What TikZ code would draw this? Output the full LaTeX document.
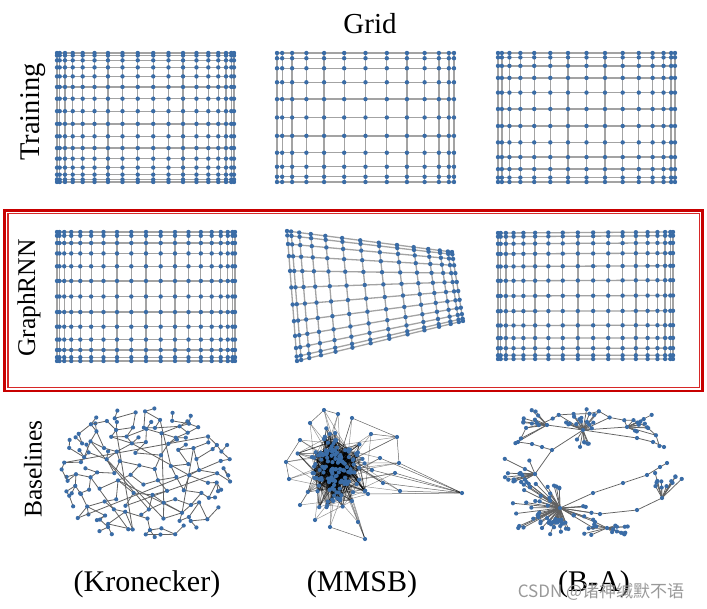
\documentclass[tikz,border=0pt]{standalone}
\usepackage{fontspec}
\setmainfont{Liberation Serif}
\newfontfamily\cjkfont{Noto Sans CJK SC}
\usetikzlibrary{calc}
\definecolor{nodeblue}{RGB}{58,108,166}
\definecolor{boxred}{RGB}{200,0,0}
\definecolor{innerred}{RGB}{215,40,40}
\tikzset{
  gedge/.style={draw=black!36, line width=1.3pt},
  gnode/.style={fill=nodeblue},
  kedge/.style={draw=black!62, line width=0.8pt},
  medge/.style={draw=black, line width=0.5pt, opacity=0.42},
  bedge/.style={draw=black!62, line width=0.75pt},
  rowlabel/.style={font=\fontsize{27}{30}\selectfont, inner sep=0pt, rotate=90},
  collabel/.style={font=\fontsize{30}{32}\selectfont, inner sep=0pt, anchor=base},
}
% grid network: corners TL TR BL BR, columns, rows (cosine spacing as spectral layout)
\newcommand\gridnet[6]{%
  \pgfmathtruncatemacro\gnc{#5-1}%
  \pgfmathtruncatemacro\gnr{#6-1}%
  \foreach \gi in {0,...,\gnc}{%
    \pgfmathsetmacro\gu{(1-cos(180*(\gi+0.5)/#5)/cos(90/#5))/2}%
    \draw[gedge] ($(#1)!\gu!(#2)$) -- ($(#3)!\gu!(#4)$);%
  }%
  \foreach \gj in {0,...,\gnr}{%
    \pgfmathsetmacro\gv{(1-cos(180*(\gj+0.5)/#6)/cos(90/#6))/2}%
    \draw[gedge] ($(#1)!\gv!(#3)$) -- ($(#2)!\gv!(#4)$);%
  }%
  \foreach \gi in {0,...,\gnc}{%
    \pgfmathsetmacro\gu{(1-cos(180*(\gi+0.5)/#5)/cos(90/#5))/2}%
    \foreach \gj in {0,...,\gnr}{%
      \pgfmathsetmacro\gv{(1-cos(180*(\gj+0.5)/#6)/cos(90/#6))/2}%
      \fill[gnode] ($ ($(#1)!\gu!(#2)$)!\gv!($(#3)!\gu!(#4)$) $) circle (2.2);%
    }%
  }%
}
% star of leaves: hub, count, amin, amax, rmin, rmax
\newcommand\bastar[6]{%
  \foreach \Bi in {1,...,#2}{%
    \pgfmathsetmacro\Bsa{#3+(#4-#3)*rnd}%
    \pgfmathsetmacro\Bsr{#5+(#6-#5)*rnd}%
    \draw[bedge] (#1) -- ++({\Bsr*cos(\Bsa)},{\Bsr*sin(\Bsa)}) coordinate (#1-s\Bi);%
  }%
  \foreach \Bi in {1,...,#2}{\fill[gnode] (#1-s\Bi) circle (2.1);}%
}
\begin{document}
\begin{tikzpicture}[x=1pt,y=-1pt]
\useasboundingbox (0,0) rectangle (707,608);
\fill[white] (0,0) rectangle (707,608);

% ---------- labels ----------
\node[collabel, font=\fontsize{29}{30}\selectfont] (title) at (370,33) {Grid};
\node[rowlabel, font=\fontsize{28.5}{30}\selectfont] (ltrain) at (33,112) {Training};
\node[rowlabel, font=\fontsize{25.5}{30}\selectfont] (lgraph) at (29,298) {GraphRNN};
\node[rowlabel, font=\fontsize{25.5}{30}\selectfont] (lbase) at (33,469) {Baselines};
\node[collabel] (lkron) at (147,591) {(Kronecker)};
\node[collabel] (lmmsb) at (362,591) {(MMSB)};
\node[collabel] (lba) at (594,591) {(B-A)};

% ---------- red box ----------
\draw[boxred, line width=2.7pt] (4.7,210.3) rectangle (702.5,391);
\draw[innerred, line width=1.2pt] (7.9,213.6) rectangle (699.4,387.6);

% ---------- training grids ----------
\coordinate (A1) at (57,53);  \coordinate (A2) at (234,53);
\coordinate (A3) at (57,182); \coordinate (A4) at (234,182);
\gridnet{A1}{A2}{A3}{A4}{18}{16}
\coordinate (B1) at (277,53);  \coordinate (B2) at (454,53);
\coordinate (B3) at (277,182); \coordinate (B4) at (454,182);
\gridnet{B1}{B2}{B3}{B4}{13}{11}
\coordinate (C1) at (498,53);  \coordinate (C2) at (675,53);
\coordinate (C3) at (498,182); \coordinate (C4) at (675,182);
\gridnet{C1}{C2}{C3}{C4}{15}{12}

% ---------- GraphRNN grids ----------
\coordinate (D1) at (57,232);  \coordinate (D2) at (235,232);
\coordinate (D3) at (57,361);  \coordinate (D4) at (235,361);
\gridnet{D1}{D2}{D3}{D4}{19}{13}
\coordinate (E1) at (287,231); \coordinate (E2) at (452,252);
\coordinate (E3) at (297,361); \coordinate (E4) at (463,321);
\gridnet{E1}{E2}{E3}{E4}{14}{12}
\coordinate (F1) at (498,233); \coordinate (F2) at (673,232);
\coordinate (F3) at (498,359); \coordinate (F4) at (673,359);
\gridnet{F1}{F2}{F3}{F4}{18}{13}

% ---------- Kronecker ----------
\pgfmathsetseed{4242}
\foreach \Kk/\Kn/\Kr in {1/5/0.16,2/10/0.34,3/16/0.52,4/22/0.68,5/28/0.82,6/38/0.95}{%
  \pgfmathtruncatemacro\Knl{\Kn-1}%
  \foreach \Km in {0,...,\Knl}{%
    \pgfmathsetmacro\Ka{23*\Kk+(\Km+0.3*rand)*360/\Kn}%
    \pgfmathsetmacro\Kq{\Kr*(1+0.09*rand)}%
    \pgfmathsetmacro\La{\Ka+70*rand}%
    \coordinate (K-\Kk-\Km) at ({145+88*\Kq*cos(\Ka)},{475+63*\Kq*sin(\Ka)});%
    \coordinate (KL-\Kk-\Km) at ({145+88*\Kq*cos(\Ka)+10*cos(\La)},{475+63*\Kq*sin(\Ka)+8*sin(\La)});%
  }%
}
\foreach \Kk/\Kn/\Kni in {1/5/0,2/10/5,3/16/10,4/22/16,5/28/22,6/38/28}{%
  \pgfmathtruncatemacro\Knl{\Kn-1}%
  \pgfmathtruncatemacro\Kkm{\Kk-1}%
  \foreach \Km in {0,...,\Knl}{%
    \pgfmathtruncatemacro\Kmn{mod(\Km+1,\Kn)}%
    \pgfmathtruncatemacro\fa{rnd<0.5}%
    \ifnum\Kk=1 \def\fa{1}\fi
    \ifnum\fa=1 \draw[kedge] (K-\Kk-\Km) -- (K-\Kk-\Kmn);\fi
    \ifnum\Kk>1
      \pgfmathtruncatemacro\Kiq{mod(round((23+\Km*360/\Kn)*\Kni/360)+10*\Kni,\Kni)}%
      \pgfmathtruncatemacro\fb{rnd<0.42}%
      \ifnum\fa=0 \def\fb{1}\fi
      \ifnum\fb=1 \draw[kedge] (K-\Kk-\Km) -- (K-\Kkm-\Kiq);\fi
    \fi
    \ifnum\Kk>2
      \pgfmathtruncatemacro\fl{rnd<0.3}%
      \ifnum\fl=1 \draw[kedge] (K-\Kk-\Km) -- (KL-\Kk-\Km); \fill[gnode] (KL-\Kk-\Km) circle (2.1);\fi
    \fi
  }%
}
\foreach \Kc in {1,...,12}{%
  \pgfmathtruncatemacro\ca{random(3,6)}%
  \pgfmathtruncatemacro\cb{random(2,6)}%
  \pgfmathtruncatemacro\na{{0,5,10,16,22,28,38}[\ca]}%
  \pgfmathtruncatemacro\nb{{0,5,10,16,22,28,38}[\cb]}%
  \pgfmathtruncatemacro\ma{random(0,\na-1)}%
  \pgfmathsetmacro\ang{23*\ca+\ma*360/\na+60+90*rnd}%
  \pgfmathtruncatemacro\mb{mod(round((\ang-23*\cb)*\nb/360)+10*\nb,\nb)}%
  \draw[kedge] (K-\ca-\ma) -- (K-\cb-\mb);
}
\foreach \Kk/\Kn in {1/5,2/10,3/16,4/22,5/28,6/38}{%
  \pgfmathtruncatemacro\Knl{\Kn-1}%
  \foreach \Km in {0,...,\Knl}{\fill[gnode] (K-\Kk-\Km) circle (2.1);}%
}

% ---------- MMSB ----------
\pgfmathsetseed{99}
\foreach \Mi in {1,...,150}{%
  \pgfmathsetmacro\mx{336+13.5*(rand+rand+rand)}%
  \pgfmathsetmacro\my{468+16.5*(rand+rand+rand)}%
  \coordinate (M-\Mi) at (\mx,\my);
}
\coordinate (MR1) at (397,437); \coordinate (MR2) at (399,463);
\coordinate (MR3) at (395,473); \coordinate (MR4) at (400,491);
\coordinate (MF) at (462,493);  \coordinate (MB) at (365,539);
\coordinate (MT) at (324,410);  \coordinate (ML1) at (286,462);
\coordinate (ML2) at (289,479); \coordinate (MTR) at (371,434);
\coordinate (MC1) at (380,458); \coordinate (MC2) at (383,483);
\coordinate (MC3) at (372,470); \coordinate (MC4) at (368,494);
\coordinate (MS1) at (310,423); \coordinate (MS2) at (300,440);
\coordinate (MS3) at (358,522); \coordinate (MS4) at (330,527);
\coordinate (MS5) at (300,505); \coordinate (MS6) at (352,418);
\coordinate (MS7) at (338,414); \coordinate (MS8) at (315,520);
\foreach \Me in {1,...,750}{%
  \pgfmathtruncatemacro\ea{random(1,150)}%
  \pgfmathtruncatemacro\eb{random(1,150)}%
  \draw[medge] (M-\ea) -- (M-\eb);
}
\foreach \Mo in {MR1,MR2,MR3,MR4,MB,MT,ML1,ML2,MTR,MC1,MC2,MC3,MC4,MS1,MS2,MS3,MS4,MS5,MS6,MS7,MS8}{%
  \foreach \Mj in {1,2,3}{%
    \pgfmathtruncatemacro\mtgt{random(1,150)}%
    \draw[medge] (\Mo) -- (M-\mtgt);
  }%
}
\foreach \Mo in {MR2,MR3,MR4,MC1,MC2,MC3,MC4}{\draw[medge, opacity=0.6] (MF) -- (\Mo);}
\draw[medge, opacity=0.6] (MR1) -- (MR2) (MR1) -- (MTR) (MR1) -- (MS6) (ML1) -- (ML2)
  (ML1) -- (MS2) (MB) -- (MS3) (MB) -- (MS4) (MT) -- (MS1) (MT) -- (MS7);
\foreach \Mi in {1,...,150}{\fill[gnode] (M-\Mi) circle (2.1);}
\foreach \Mo in {MR1,MR2,MR3,MR4,MF,MB,MT,ML1,ML2,MTR,MC1,MC2,MC3,MC4,MS1,MS2,MS3,MS4,MS5,MS6,MS7,MS8}{\fill[gnode] (\Mo) circle (2.1);}

% ---------- B-A ----------
\pgfmathsetseed{321}
\coordinate (H1) at (560,508); \coordinate (H2) at (583,430);
\coordinate (H3) at (535,474); \coordinate (BN) at (552,450);
\coordinate (P1) at (547,425); \coordinate (P2) at (627,427);
\coordinate (P3) at (662,498); \coordinate (P4) at (607,528);
\coordinate (Q1) at (593,493); \coordinate (Q2) at (623,483);
\coordinate (Q3) at (647,475); \coordinate (Q4) at (660,467);
\coordinate (Q5) at (667,463); \coordinate (R1) at (600,514);
\coordinate (R2) at (637,510); \coordinate (R3) at (595,522);
\coordinate (G1) at (637,438); \coordinate (G2) at (653,442);
\coordinate (G3) at (664,447); \coordinate (L1) at (542,447);
\coordinate (L2) at (532,444); \coordinate (L3) at (518,442);
\foreach \Bt [count=\Bj] in {207,216,...,333}{%
  \pgfmathsetmacro\Btx{587+82*cos(\Bt)+3*rand}%
  \pgfmathsetmacro\Bty{470+58*sin(\Bt)+3*rand}%
  \coordinate (T-\Bj) at (\Btx,\Bty);
}
\draw[bedge] (H2) -- (BN) -- (H3) -- (H1) (BN) -- (L1) -- (L2) -- (L3)
  (H1) -- (Q1) -- (Q2) -- (Q3) -- (Q4) -- (Q5)
  (H1) -- (R1) -- (R2) -- (P3) (H1) -- (R3) -- (P4)
  (H2) -- (P1) (H2) -- (P2) (H2) -- (G1) -- (G2) -- (G3);
\foreach \Bj in {1,...,14}{\pgfmathtruncatemacro\Bk{\Bj+1}\draw[bedge] (T-\Bj) -- (T-\Bk);}
\foreach \Bj in {1,2,3,4}{\draw[bedge] (P1) -- (T-\Bj);}
\foreach \Bj in {6,7,8,9,10}{\draw[bedge] (H2) -- (T-\Bj);}
\foreach \Bj in {11,12,13,14}{\draw[bedge] (P2) -- (T-\Bj);}
\bastar{H1}{24}{150}{225}{12}{55}
\bastar{H1}{24}{60}{150}{10}{30}
\bastar{H1}{6}{235}{280}{10}{25}
\bastar{H1}{8}{-10}{55}{12}{40}
\bastar{H2}{14}{190}{350}{8}{22}
\bastar{H2}{6}{20}{170}{8}{18}
\bastar{P1}{9}{150}{230}{10}{25}
\bastar{P2}{9}{-40}{60}{8}{28}
\bastar{H3}{14}{150}{250}{10}{35}
\bastar{P3}{12}{240}{335}{8}{28}
\bastar{P4}{11}{-30}{40}{6}{22}
\bastar{P4}{5}{140}{200}{8}{25}
\foreach \Bp in {H1,H2,H3,BN,P1,P2,P3,P4,Q1,Q2,Q3,Q4,Q5,R1,R2,R3,G1,G2,G3,L1,L2,L3}{\fill[gnode] (\Bp) circle (2.1);}
\foreach \Bj in {1,...,15}{\fill[gnode] (T-\Bj) circle (2.1);}

% ---------- watermark ----------
\node[font=\cjkfont\fontsize{17}{18}\selectfont, text=black!40, inner sep=0pt] (wm) at (601,592) {CSDN @诸神缄默不语};
\end{tikzpicture}
\end{document}
